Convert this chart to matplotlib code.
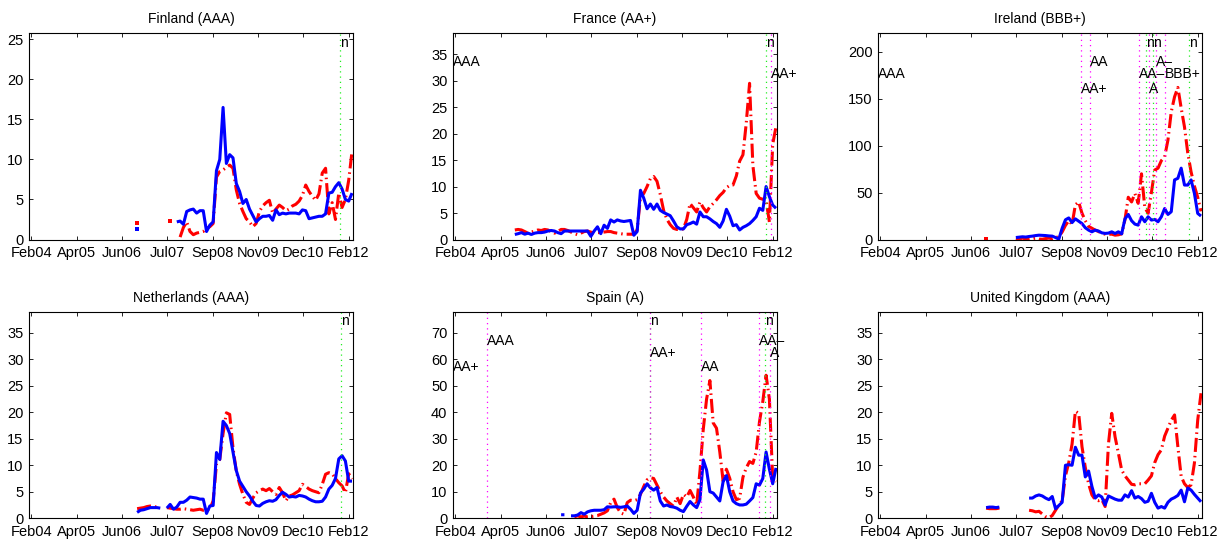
import numpy as np
import matplotlib
matplotlib.use("Agg")
import matplotlib.pyplot as plt

nan = np.nan

# x axis is in months after Feb 2004; the eight ticks are evenly spaced
tick_labels = ["Feb04", "Apr05", "Jun06", "Jul07", "Sep08", "Nov09", "Dec10", "Feb12"]
tick_months = np.linspace(0, 96, 8)

# ---- monthly series, first value at month `*_start` (blue = solid, red = dash-dot)
fi_start = 32
fi_blue = [1.3] + [nan] * 11 + [
    2.2, 2.3, 1.9, 3.5, 3.7, 3.8, 3.3, 3.6, 3.6, 1.0, 1.8, 2.2, 8.6, 10.0, 16.5, 9.5,
    10.6, 10.2, 7.0, 6.0, 4.5, 5.0, 3.8, 3.0, 2.2, 2.6, 2.9, 2.9, 3.0, 2.4, 3.7, 3.1,
    3.3, 3.2, 3.3, 3.3, 3.3, 3.2, 3.7, 3.6, 2.6, 2.7, 2.8, 2.9, 2.9, 3.2, 5.8, 5.9,
    6.6, 7.1, 6.3, 5.0, 4.8, 5.8]
fi_red = [2.0] + [nan] * 9 + [2.3] + [nan] * 2 + [
    0.3, 1.5, 2.2, 1.0, 0.6, 0.8, 0.9, 1.0, 1.4, 1.6, 2.0, 7.8, 8.5, 8.7, 9.0, 9.3,
    8.9, 6.2, 4.5, 3.5, 2.6, 2.2, 1.6, 2.0, 3.5, 4.2, 4.6, 4.9, 3.3, 3.8, 4.3, 4.0,
    3.6, 3.8, 4.2, 4.4, 4.8, 5.5, 6.8, 6.0, 5.4, 4.9, 5.7, 8.3, 8.9, 3.2, 4.6, 2.5,
    5.8, 4.0, 5.0, 7.4, 11.0]

fr_start = 18
fr_blue = [
    0.95, 1.1, 1.3, 1.0, 1.2, 0.95, 1.2, 1.3, 1.3, 1.4,
    1.6, 1.7, 1.6, 1.3, 1.1, 1.6, 1.6, 1.6, 1.6, 1.6,
    1.6, 1.6, 1.6, 0.6, 1.6, 2.4, 1.1, 2.7, 2.1, 3.7,
    3.3, 3.7, 3.5, 3.4, 3.5, 3.6, 0.8, 1.5, 9.3, 7.8,
    5.8, 6.7, 5.7, 6.7, 5.5, 5.1, 4.8, 4.5, 3.5, 2.4,
    2.0, 2.0, 2.8, 3.0, 3.3, 2.9, 5.2, 4.3, 4.3, 3.9,
    3.4, 3.0, 2.3, 3.5, 5.7, 4.4, 2.6, 2.8, 1.8, 2.3,
    2.6, 3.0, 3.6, 4.3, 5.9, 5.5, 10.0, 8.1, 6.5, 5.9]
fr_red = [
    1.8, 1.9, 1.8, 1.5, 1.2, 1.4, 1.6, 1.8, 1.7, 1.9,
    1.8, 1.5, 1.2, 1.5, 1.9, 1.9, 1.7, 1.4, 1.1, 0.9,
    1.2, 1.5, 1.6, 1.4, 1.2, 1.3, 1.3, 1.4, 1.5, 1.5,
    1.3, 1.2, 1.1, 1.0, 1.0, 1.0, 1.0, 1.8, 8.0, 8.7,
    10.0, 11.5, 11.9, 11.0, 8.5, 5.5, 3.8, 2.8, 2.1, 1.9,
    1.9, 2.0, 3.8, 6.8, 6.0, 5.2, 7.1, 6.0, 5.2, 6.2,
    6.8, 7.5, 8.3, 8.9, 9.8, 10.2, 10.3, 12.0, 14.8, 16.0,
    22.0, 29.5, 14.0, 8.7, 7.8, 7.6, 7.4, 3.3, 18.0, 21.3]

ie_start = 32
ie_blue = [nan] * 9 + [
    2.1, 2.5, 2.9, 2.6, 3.2, 3.6, 4.2, 4.6, 4.4, 4.2,
    3.8, 3.6, 2.1, 0.4, 12.0, 21.0, 23.0, 18.0, 22.0, 19.5,
    17.0, 12.5, 10.0, 8.2, 10.0, 9.0, 7.1, 6.5, 6.8, 8.2,
    6.4, 8.2, 6.0, 22.0, 26.7, 20.0, 16.4, 15.3, 24.2, 18.9,
    24.2, 20.7, 21.4, 18.9, 24.2, 33.0, 26.7, 29.6, 63.5, 65.2,
    76.0, 58.0, 58.0, 63.5, 49.2, 27.8, 25.0]
ie_red = [1.0] + [nan] * 8 + [
    1.0, 0.5, 1.5, 0.5, 0.3, 0.8, 1.5, 0.5, 0.3, 1.0,
    1.5, 0.8, 2.0, 3.0, 8.0, 15.0, 20.0, 16.0, 37.0, 40.0,
    28.0, 20.0, 14.0, 12.0, 10.0, 8.5, 6.5, 5.7, 5.5, 5.7,
    4.6, 5.0, 6.0, 21.0, 45.0, 40.0, 49.0, 38.5, 70.0, 34.0,
    28.0, 50.0, 74.0, 76.0, 84.0, 88.0, 106.0, 136.0, 152.0, 162.0,
    140.0, 120.0, 92.0, 72.0, 57.0, 45.0, 30.0]

nl_start = 32
nl_blue = [
    1.1, 1.5, 1.6, 1.8, 2.0, 2.0, 2.0, 1.9, nan, 1.9,
    2.6, 1.7, 2.1, 3.0, 3.0, 3.4, 4.0, 3.9, 3.8, 3.6,
    3.6, 0.9, 2.3, 2.4, 12.4, 11.1, 18.3, 17.5, 16.0, 12.5,
    9.0, 7.0, 6.0, 5.0, 4.2, 3.2, 2.4, 2.3, 2.8, 3.1,
    3.3, 3.2, 3.5, 4.3, 4.9, 4.5, 4.0, 4.1, 4.0, 4.3,
    4.2, 4.0, 3.6, 3.3, 3.1, 3.1, 3.2, 4.0, 5.5, 6.2,
    7.5, 11.2, 11.8, 10.8, 7.0, 7.0]
nl_red = [
    1.8, 1.9, 2.0, 2.2, 2.3, 2.2, 2.1, 2.0, nan, 2.0,
    1.9, 1.8, 1.7, 1.7, 1.8, 1.7, 1.6, 1.5, 1.6, 1.7,
    1.5, 1.6, 1.7, 3.3, 10.2, 11.1, 16.0, 19.9, 19.6, 13.3,
    8.9, 6.4, 4.5, 3.0, 2.6, 3.8, 4.8, 5.2, 5.5, 5.2,
    5.6, 5.0, 4.5, 5.8, 4.8, 3.3, 4.2, 4.4, 4.8, 5.2,
    6.4, 6.0, 5.5, 5.2, 5.0, 4.8, 6.4, 8.3, 8.6, 8.4,
    7.5, 6.7, 6.1, 4.8, 8.4, 7.4]

es_start = 32
es_blue = [
    1.3, 1.3, nan, 0.9, 0.9, 1.2, 2.1, 1.5, 2.4, 2.8,
    3.0, 3.0, 3.0, 3.2, 4.3, 4.2, 4.3, 4.3, 4.1, 4.3,
    4.6, 3.4, 1.8, 3.0, 9.5, 11.0, 13.0, 11.5, 10.6, 11.6,
    6.5, 4.6, 5.0, 4.4, 4.2, 3.8, 3.0, 2.5, 4.5, 6.3,
    5.0, 4.0, 7.0, 22.0, 18.2, 10.0, 9.5, 8.0, 6.5, 13.8,
    16.1, 10.0, 6.5, 5.5, 5.0, 5.0, 5.3, 6.5, 7.8, 13.0,
    12.5, 15.0, 25.0, 18.5, 13.0, 19.0]
es_red = [
    nan, nan, nan, nan, 0.5, 0.9, 0.5, 0.8, 0.5, 0.6,
    0.8, 1.0, 1.5, 2.0, 2.8, 5.9, 7.2, 4.0, 2.0, 1.5,
    5.9, 6.8, 6.6, 7.0, 9.0, 12.0, 14.5, 15.3, 15.0, 12.5,
    10.0, 8.0, 6.5, 5.5, 4.5, 8.0, 5.5, 9.0, 8.0, 10.5,
    8.0, 5.0, 17.8, 33.6, 45.0, 52.0, 36.0, 34.0, 25.0, 14.0,
    18.5, 15.1, 10.0, 7.0, 7.5, 15.5, 19.0, 21.4, 20.7, 25.0,
    36.4, 44.0, 54.0, 45.0, 15.0, 13.8]

uk_start = 32
uk_blue = [2.0, 2.1, 2.1, 2.0, 2.1] + [nan] * 8 + [
    3.8, 3.8, 4.2, 4.4, 4.2, 3.8, 3.5,
    4.1, 1.8, 2.4, 3.0, 10.0, 10.1, 10.0, 13.4, 11.9, 11.9,
    7.8, 8.9, 6.0, 3.8, 4.4, 4.0, 2.5, 4.2, 3.9, 3.6,
    3.4, 3.4, 4.4, 4.0, 5.2, 3.8, 4.1, 3.7, 3.0, 3.2,
    4.7, 3.0, 1.9, 2.2, 1.9, 3.0, 3.6, 3.9, 4.3, 5.3,
    3.1, 5.7, 5.3, 4.5, 3.8, 3.1]
uk_red = [1.9, 1.8, 1.8, 1.8, 1.9] + [nan] * 8 + [
    1.5, 1.4, 1.2, 1.3, 0.8, 0.3, 0.1,
    0.5, 1.5, 2.5, 3.3, 8.0, 10.5, 14.0, 20.2, 19.8, 13.5,
    9.6, 6.5, 4.4, 3.5, 3.3, 3.5, 2.2, 14.0, 19.8, 15.4,
    12.3, 9.1, 8.0, 7.2, 6.4, 6.3, 6.5, 6.5, 6.5, 7.2,
    8.0, 10.5, 12.0, 12.9, 15.5, 17.0, 18.5, 19.5, 13.5, 7.9,
    6.5, 5.8, 6.3, 10.4, 18.5, 23.6]

# ---- rating history: first entry is the rating at the start, the rest change at *_rating_x
fr_ratings = ["AAA", "AA+"]
fr_rating_x = [95.4]
fr_watch_x = [94.1]
ie_ratings = ["AAA", "AA+", "AA", "AA\u2013", "A", "A\u2013", "BBB+"]
ie_rating_x = [60.8, 63.3, 78.1, 81.2, 83.3, 86.0]
ie_watch_x = [80.5, 82.6, 93.5]
es_ratings = ["AA+", "AAA", "AA+", "AA", "AA\u2013", "A"]
es_rating_x = [9.6, 58.8, 74.3, 91.9, 95.1]
es_watch_x = [58.8, 93.7]
fi_watch_x = [93.5]
nl_watch_x = [93.7]

panels = [
    ("Finland (AAA)", fi_start, fi_blue, fi_red, [], [], fi_watch_x, 25.8, 5),
    ("France (AA+)", fr_start, fr_blue, fr_red, fr_ratings, fr_rating_x, fr_watch_x, 39, 5),
    ("Ireland (BBB+)", ie_start, ie_blue, ie_red, ie_ratings, ie_rating_x, ie_watch_x, 220, 50),
    ("Netherlands (AAA)", nl_start, nl_blue, nl_red, [], [], nl_watch_x, 39, 5),
    ("Spain (A)", es_start, es_blue, es_red, es_ratings, es_rating_x, es_watch_x, 78, 10),
    ("United Kingdom (AAA)", uk_start, uk_blue, uk_red, [], [], [], 39, 5),
]

plt.rcParams["font.family"] = ["Liberation Sans", "DejaVu Sans"]
plt.rcParams["font.size"] = 10

XLIM = (-0.7, 97.3)
LEVELS = [0.8, 0.73, 0.86]  # label heights (fraction of y range), last label sits on 0.8
RED_DASH = (0, (4.6, 1.3, 0.5, 1.3))
DOTS = (0, (1.0, 3.2))


def plot_series(ax, start, vals, color, ls):
    y = np.asarray(vals, dtype=float)
    x = start + np.arange(len(y))
    ax.plot(x, y, color=color, ls=ls, lw=2.2, solid_capstyle="butt")
    # a lone value between gaps draws nothing as a line: show it as a dot
    prev = np.r_[nan, y[:-1]]
    nxt = np.r_[y[1:], nan]
    lone = np.isfinite(y) & np.isnan(prev) & np.isnan(nxt)
    ax.plot(x[lone], y[lone], ls="none", marker="s", ms=2.2, color=color, mew=0)


fig = plt.figure(figsize=(12.3, 5.42), dpi=100)
lefts = [29, 453, 878]
tops = [33, 311.7]
W, H = 324, 206.5

for i, (title, start, blue, red, ratings, rating_x, watch_x, ytop, ystep) in enumerate(panels):
    row, col = divmod(i, 3)
    ax = fig.add_axes([lefts[col] / 1230, 1 - (tops[row] + H) / 542, W / 1230, H / 542])
    ax.set_xlim(*XLIM)
    ax.set_ylim(0, ytop)

    plot_series(ax, start, red, "#ff0000", RED_DASH)
    plot_series(ax, start, blue, "#0000ff", "-")

    for x in watch_x:
        ax.axvline(x, color="#22ee22", ls=DOTS, lw=0.9)
        ax.text(x, 0.953 * ytop, "n", ha="left", va="center")
    n = len(ratings)
    for k, label in enumerate(ratings):
        lev = LEVELS[(k - (n - 1)) % 3] * ytop
        if k == 0:
            ax.text(XLIM[0], lev, label, ha="left", va="center")
        else:
            x = rating_x[k - 1]
            ax.axvline(x, color="#ff00ff", ls=DOTS, lw=0.9)
            ax.text(x, lev, label, ha="left", va="center")

    ax.set_xticks(tick_months)
    ax.set_xticklabels(tick_labels)
    ax.set_yticks(np.arange(0, ytop, ystep))
    ax.tick_params(direction="in", top=True, right=True, length=3, width=0.6,
                   labelsize=10.5, colors="black")
    ax.tick_params(axis="x", pad=5)
    ax.tick_params(axis="y", pad=4)
    for s in ax.spines.values():
        s.set_linewidth(0.8)
    ax.set_title(title, fontsize=10, pad=7)

fig.savefig("out.png", dpi=100)
